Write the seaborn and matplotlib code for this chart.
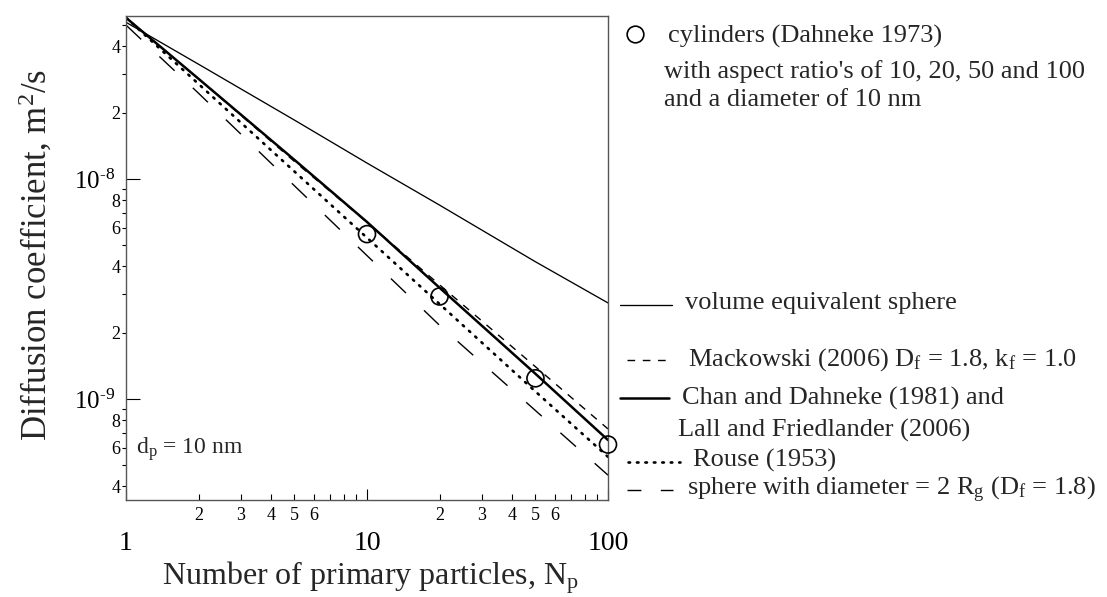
import numpy as np
import pandas as pd
import matplotlib
matplotlib.use("Agg")
import matplotlib.pyplot as plt
import seaborn as sns
from matplotlib.lines import Line2D
from matplotlib.ticker import FixedLocator, FixedFormatter

# ---------------- data ----------------
n_line = [1, 2, 5, 10, 20, 50, 100]
d_volume_sphere = [5.15e-8, 3.32e-8, 1.85e-8, 1.18e-8, 7.6e-9, 4.2e-9, 2.73e-9]
d_mackowski = [5.4e-8, 2.85e-8, 1.2e-8, 6.35e-9, 3.3e-9, 1.4e-9, 7.3e-10]
d_chan = [5.4e-8, 2.85e-8, 1.22e-8, 6.37e-9, 3.2e-9, 1.3e-9, 6.5e-10]
d_rouse = [5.4e-8, 2.7e-8, 1.08e-8, 5.4e-9, 2.7e-9, 1.08e-9, 5.45e-10]
d_sphere_rg = [5.0e-8, 2.45e-8, 9.3e-9, 4.48e-9, 2.16e-9, 8.85e-10, 4.5e-10]

n_cyl = [10, 20, 50, 100]
d_cyl = [5.61e-9, 2.92e-9, 1.24e-9, 6.2e-10]

x_major = [1, 10, 100]
x_major_labels = ["1", "10", "100"]
x_minor = [2, 3, 4, 5, 6, 7, 8, 9, 20, 30, 40, 50, 60, 70, 80, 90]
x_minor_labels = ["2", "3", "4", "5", "6", "", "", "", "2", "3", "4", "5", "6", "", "", ""]
y_major = [1e-9, 1e-8]
y_major_labels = [r"10$^{\text{-9}}$", r"10$^{\text{-8}}$"]
y_minor = [4e-10, 5e-10, 6e-10, 7e-10, 8e-10, 9e-10,
           2e-9, 3e-9, 4e-9, 5e-9, 6e-9, 7e-9, 8e-9, 9e-9,
           2e-8, 3e-8, 4e-8, 5e-8]
y_minor_labels = ["4", "", "6", "", "8", "",
                  "2", "", "4", "", "6", "", "8", "",
                  "2", "", "4", ""]

# ---------------- style ----------------
sns.set_theme(style="ticks")
plt.rcParams["font.family"] = ["Liberation Serif", "DejaVu Serif"]
plt.rcParams["mathtext.fontset"] = "custom"
plt.rcParams["mathtext.rm"] = "Liberation Serif"
plt.rcParams["mathtext.it"] = "Liberation Serif:italic"
plt.rcParams["mathtext.default"] = "regular"

W, H = 1107, 597
fig = plt.figure(figsize=(W / 100, H / 100), dpi=100)
ax = fig.add_axes([126 / W, 1 - 500 / H, (608 - 126) / W, (500 - 16) / H])
ax.set_xscale("log")
ax.set_yscale("log")

sns.lineplot(x=n_line, y=d_volume_sphere, ax=ax, color="black", linewidth=0.95)
sns.lineplot(x=n_line, y=d_mackowski, ax=ax, color="black", linewidth=1.0,
             linestyle=(0, (5.5, 5.5)))
sns.lineplot(x=n_line, y=d_chan, ax=ax, color="black", linewidth=1.8)
sns.lineplot(x=n_line, y=d_rouse, ax=ax, color="black", linewidth=1.9,
             linestyle=(0, (0.6, 2.6)), dash_capstyle="round")
sns.lineplot(x=n_line, y=d_sphere_rg, ax=ax, color="black", linewidth=1.0,
             linestyle=(0, (15, 18)))
sns.scatterplot(x=n_cyl, y=d_cyl, ax=ax, marker="o", s=150,
                facecolors="none", edgecolor="black", linewidth=1.2, zorder=5,
                clip_on=False)

ax.set_xlim(1, 100)
ax.set_ylim(3.47e-10, 5.5e-8)

for s in ax.spines.values():
    s.set_color("#555555")
    s.set_linewidth(1.0)

# x ticks
ax.xaxis.set_major_locator(FixedLocator(x_major))
ax.xaxis.set_major_formatter(FixedFormatter(x_major_labels))
ax.xaxis.set_minor_locator(FixedLocator(x_minor))
ax.xaxis.set_minor_formatter(FixedFormatter(x_minor_labels))
ax.tick_params(axis="x", which="major", direction="in", length=8, width=0.8,
               labelsize=20, pad=22, colors="black")
ax.tick_params(axis="x", which="minor", direction="in", length=4, width=0.8,
               labelsize=13, pad=5, colors="black")
# y ticks
ax.yaxis.set_major_locator(FixedLocator(y_major))
ax.yaxis.set_major_formatter(FixedFormatter(y_major_labels))
ax.yaxis.set_minor_locator(FixedLocator(y_minor))
ax.yaxis.set_minor_formatter(FixedFormatter(y_minor_labels))
ax.tick_params(axis="y", which="major", direction="in", length=10, width=0.8,
               labelsize=18, pad=8, colors="black")
ax.tick_params(axis="y", which="minor", direction="out", length=3, width=0.8,
               labelsize=13, pad=1, colors="black")

ax.set_xlabel("")
ax.set_ylabel("")
fig.text(370 / W, 1 - 578 / H, r"Number of primary particles, N$_\mathrm{p}$",
         ha="center", va="center", fontsize=23)
fig.text(36 / W, 1 - 255 / H, r"Diffusion coefficient, m$^2$/s",
         ha="center", va="center", rotation=90, fontsize=25)
ax.text(1.1, 5.9e-10, r"d$_\mathrm{p}$ = 10 nm", fontsize=17, ha="left", va="center")

# ---------------- legend (outside, right) ----------------
def fy(py):
    return 1 - py / H

def leg_line(x0, x1, py, **kw):
    fig.add_artist(Line2D([x0 / W, x1 / W], [fy(py), fy(py)], color="black", **kw))

fs = 19
fig.add_artist(Line2D([635 / W], [fy(34)], marker="o", markersize=12,
                      markerfacecolor="none", markeredgecolor="black",
                      markeredgewidth=1.2, linestyle="none"))
fig.text(668 / W, fy(36), "cylinders (Dahneke 1973)", fontsize=fs, va="center")
fig.text(664 / W, fy(72), "with aspect ratio's of 10, 20, 50 and 100", fontsize=fs, va="center")
fig.text(664 / W, fy(100), "and a diameter of 10 nm", fontsize=fs, va="center")

leg_line(620, 672, 305, linewidth=0.95)
fig.text(685 / W, fy(303), "volume equivalent sphere", fontsize=fs, va="center")

leg_line(627, 672, 360, linewidth=1.0, linestyle=(0, (5.5, 5.5)))
fig.text(688 / W, fy(360), r"Mackowski (2006) D$_\mathrm{f}$ = 1.8, k$_\mathrm{f}$ = 1.0",
         fontsize=fs, va="center")

leg_line(620, 669, 398, linewidth=1.8)
fig.text(682 / W, fy(398), "Chan and Dahneke (1981) and", fontsize=fs, va="center")
fig.text(678 / W, fy(430), "Lall and Friedlander (2006)", fontsize=fs, va="center")

leg_line(628, 680, 462, linewidth=1.9, linestyle=(0, (0.6, 2.6)), dash_capstyle="round")
fig.text(693 / W, fy(460), "Rouse (1953)", fontsize=fs, va="center")

leg_line(627, 673, 490, linewidth=1.0, linestyle=(0, (10, 14)))
fig.text(687 / W, fy(490), r"sphere with diameter = 2 R$_\mathrm{g}$ (D$_\mathrm{f}$ = 1.8)",
         fontsize=fs, va="center")

fig.savefig("out.png", dpi=100)
